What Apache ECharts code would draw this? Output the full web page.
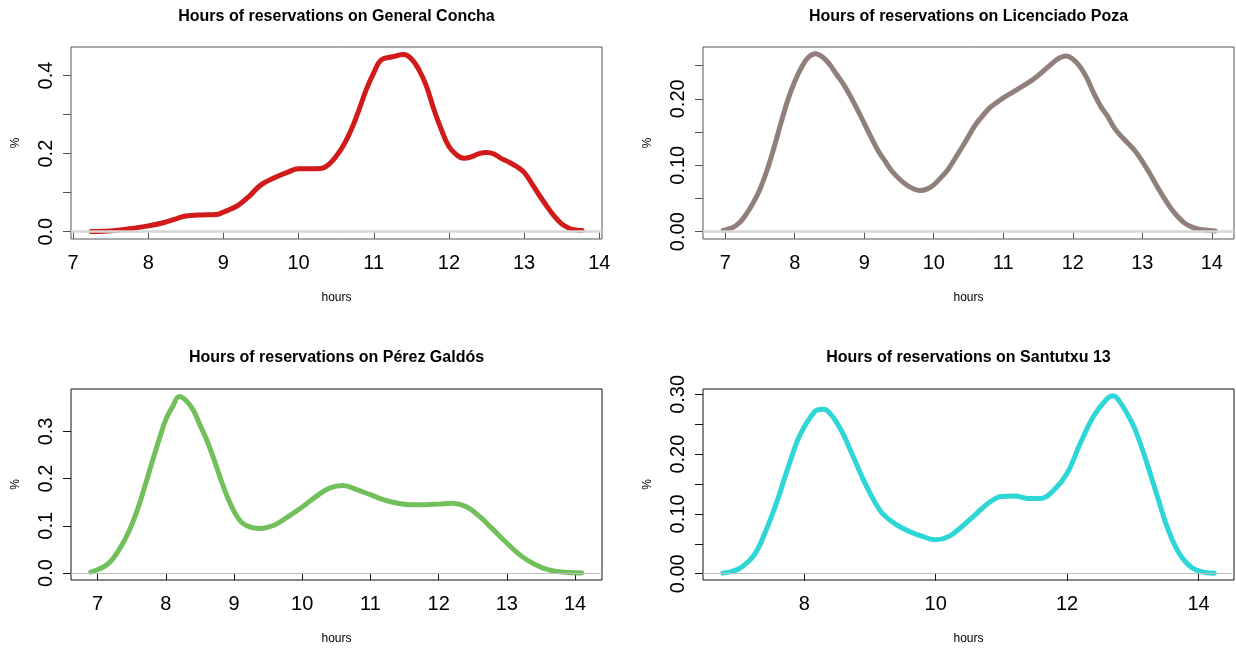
<!DOCTYPE html>
<html>
<head>
  <meta charset="utf-8">
  <title>Hours of reservations</title>
  <script src="https://cdn.jsdelivr.net/npm/echarts@6/dist/echarts.min.js"></script>
  <style>
    html, body { margin: 0; padding: 0; background: #fff; }
    #chart { width: 1236px; height: 651px; }
  </style>
</head>
<body>
<div id="chart"></div>
<script>
  // 数据区：每个面板一组 x（小时）和 y（%）
  var titles = [
    'Hours of reservations on General Concha',
    'Hours of reservations on Licenciado Poza',
    'Hours of reservations on Pérez Galdós',
    'Hours of reservations on Santutxu 13'
  ];
  var colors = ['#d11a1a', '#917f7c', '#72c05b', '#2fd6d6'];

  var hoursConcha = [7.24, 7.4, 7.6, 7.8, 8.0, 8.2, 8.4, 8.5, 8.7, 8.9, 9.0, 9.1, 9.2, 9.35, 9.5, 9.7, 9.85,
    10.0, 10.15, 10.3, 10.4, 10.5, 10.6, 10.7, 10.8, 10.9, 11.0, 11.1, 11.25, 11.4, 11.5, 11.6, 11.7, 11.8, 11.9,
    12.0, 12.1, 12.2, 12.3, 12.4, 12.5, 12.6, 12.7, 12.8, 12.9, 13.0, 13.1, 13.2, 13.3, 13.4, 13.5, 13.6, 13.7, 13.77];
  var pctConcha = [0.0005, 0.001, 0.004, 0.009, 0.015, 0.023, 0.035, 0.040, 0.043, 0.044, 0.050, 0.058, 0.068, 0.092,
    0.120, 0.140, 0.152, 0.161, 0.161, 0.162, 0.172, 0.193, 0.222, 0.261, 0.310, 0.364, 0.407, 0.440, 0.448, 0.454,
    0.443, 0.415, 0.373, 0.313, 0.261, 0.218, 0.197, 0.188, 0.192, 0.200, 0.203, 0.199, 0.187, 0.178, 0.167, 0.152,
    0.124, 0.094, 0.066, 0.040, 0.020, 0.009, 0.004, 0.003];

  var hoursPoza = [6.97, 7.1, 7.2, 7.3, 7.4, 7.5, 7.6, 7.7, 7.8, 7.9, 8.0, 8.1, 8.2, 8.3, 8.4, 8.5, 8.6, 8.7, 8.8, 8.9,
    9.0, 9.1, 9.2, 9.3, 9.4, 9.5, 9.6, 9.7, 9.8, 9.9, 10.0, 10.1, 10.2, 10.3, 10.4, 10.5, 10.6, 10.7, 10.8, 10.9, 11.0,
    11.2, 11.4, 11.5, 11.6, 11.7, 11.8, 11.9, 12.0, 12.1, 12.2, 12.3, 12.4, 12.5, 12.6, 12.7, 12.8, 12.9, 13.0,
    13.1, 13.2, 13.3, 13.4, 13.5, 13.6, 13.7, 13.8, 13.9, 14.05];
  var pctPoza = [0.002, 0.006, 0.013, 0.026, 0.043, 0.064, 0.092, 0.126, 0.163, 0.198, 0.226, 0.248, 0.263, 0.268,
    0.263, 0.252, 0.237, 0.222, 0.204, 0.184, 0.163, 0.142, 0.122, 0.106, 0.091, 0.080, 0.071, 0.065, 0.062, 0.064,
    0.0705, 0.081, 0.093, 0.109, 0.126, 0.1435, 0.161, 0.174, 0.186, 0.194, 0.2015, 0.214, 0.227, 0.235, 0.244, 0.253,
    0.261, 0.2645, 0.260, 0.249, 0.232, 0.209, 0.189, 0.174, 0.156, 0.1435, 0.1325, 0.121, 0.106, 0.089, 0.0705,
    0.053, 0.037, 0.024, 0.0136, 0.0076, 0.004, 0.0025, 0.001];

  var hoursGaldos = [6.9, 7.0, 7.1, 7.2, 7.3, 7.4, 7.5, 7.6, 7.7, 7.8, 7.9, 8.0, 8.1, 8.2, 8.3, 8.4, 8.5, 8.6, 8.7,
    8.8, 8.9, 9.0, 9.1, 9.2, 9.3, 9.4, 9.5, 9.6, 9.8, 10.0, 10.2, 10.4, 10.6, 10.8, 11.0, 11.2, 11.4, 11.6, 11.8,
    12.0, 12.2, 12.4, 12.6, 12.8, 13.0, 13.2, 13.4, 13.6, 13.8, 14.1];
  var pctGaldos = [0.002, 0.007, 0.014, 0.026, 0.046, 0.0706, 0.102, 0.141, 0.187, 0.236, 0.282, 0.325, 0.353, 0.374,
    0.365, 0.346, 0.314, 0.282, 0.2435, 0.201, 0.162, 0.1306, 0.109, 0.0995, 0.0953, 0.0946, 0.0974, 0.102, 0.120,
    0.1398, 0.162, 0.180, 0.1856, 0.1765, 0.166, 0.155, 0.148, 0.1447, 0.1447, 0.146, 0.148, 0.141, 0.120, 0.092,
    0.0635, 0.0374, 0.019, 0.007, 0.002, 0.0];

  var hoursSantutxu = [6.76, 6.9, 7.0, 7.1, 7.2, 7.3, 7.4, 7.5, 7.6, 7.7, 7.8, 7.9, 8.0, 8.1, 8.2, 8.3, 8.4, 8.5, 8.6,
    8.7, 8.8, 8.9, 9.0, 9.1, 9.2, 9.4, 9.6, 9.8, 10.0, 10.2, 10.4, 10.6, 10.8, 11.0, 11.2, 11.4, 11.6, 11.8, 12.0,
    12.2, 12.4, 12.6, 12.7, 12.8, 13.0, 13.1, 13.2, 13.3, 13.4, 13.5, 13.6, 13.7, 13.8, 13.9, 14.0, 14.1, 14.24];
  var pctSantutxu = [0.001, 0.004, 0.008, 0.016, 0.026, 0.043, 0.068, 0.0957, 0.126, 0.160, 0.193, 0.224, 0.246,
    0.263, 0.274, 0.275, 0.267, 0.2516, 0.232, 0.207, 0.182, 0.157, 0.1347, 0.115, 0.0996, 0.082, 0.0707, 0.0623,
    0.0568, 0.0623, 0.079, 0.0985, 0.118, 0.129, 0.130, 0.126, 0.126, 0.140, 0.168, 0.218, 0.263, 0.292, 0.2978,
    0.288, 0.250, 0.222, 0.190, 0.155, 0.120, 0.085, 0.057, 0.035, 0.020, 0.010, 0.005, 0.002, 0.001];

  var xs = [hoursConcha, hoursPoza, hoursGaldos, hoursSantutxu];
  var ys = [pctConcha, pctPoza, pctGaldos, pctSantutxu];

  // 坐标轴刻度
  var xTicks = [[7, 8, 9, 10, 11, 12, 13, 14], [7, 8, 9, 10, 11, 12, 13, 14],
    [7, 8, 9, 10, 11, 12, 13, 14], [8, 10, 12, 14]];
  var yTicks = [[0, 0.1, 0.2, 0.3, 0.4], [0, 0.05, 0.1, 0.15, 0.2, 0.25],
    [0, 0.1, 0.2, 0.3], [0, 0.05, 0.1, 0.15, 0.2, 0.25, 0.3]];
  var yLabels = [[0, 0.2, 0.4], [0, 0.1, 0.2], [0, 0.1, 0.2, 0.3], [0, 0.1, 0.2, 0.3]];
  var yDigits = [1, 2, 1, 2];

  // R 默认 4% 扩展后的范围
  var xRange = [[6.973, 14.036], [6.68, 14.32], [6.61, 14.395], [6.458, 14.54]];
  var yRange = [[-0.0187, 0.473], [-0.011, 0.278], [-0.0148, 0.390], [-0.0105, 0.309]];

  var boxes = [
    { left: 71, top: 47, width: 531, height: 192 },
    { left: 703, top: 47, width: 531, height: 192 },
    { left: 71, top: 389, width: 531, height: 191 },
    { left: 703, top: 389, width: 531, height: 191 }
  ];
  var frameColor = ['#555', '#555', '#111', '#111'];
  var zeroColor = ['#d6d6d6', '#d6d6d6', '#bdbdbd', '#bdbdbd'];
  var zeroWidth = [2.5, 2.5, 1, 1];

  var font = 'Liberation Sans';
  var grid = [], xAxis = [], yAxis = [], series = [], graphic = [];

  for (var i = 0; i < 4; i++) {
    var b = boxes[i];
    grid.push({
      left: b.left, top: b.top, width: b.width, height: b.height,
      show: true, borderColor: frameColor[i], borderWidth: 1, backgroundColor: 'transparent'
    });
    xAxis.push({
      type: 'value', gridIndex: i, min: xRange[i][0], max: xRange[i][1],
      name: 'hours', nameLocation: 'middle', nameGap: 53,
      nameTextStyle: { fontFamily: font, fontSize: 12, color: '#000' },
      axisLine: { show: false },
      splitLine: { show: false },
      axisTick: { show: true, inside: false, length: 7, customValues: xTicks[i],
        lineStyle: { color: frameColor[i], width: 1 } },
      axisLabel: { customValues: xTicks[i], margin: 14, fontFamily: font, fontSize: 20, color: '#000',
        formatter: function (v) { return String(v); } }
    });
    (function (d) {
      yAxis.push({
        type: 'value', gridIndex: i, min: yRange[i][0], max: yRange[i][1],
        name: '%', nameLocation: 'middle', nameGap: 49, nameRotate: 90,
        nameTextStyle: { fontFamily: font, fontSize: 12, color: '#000' },
        axisLine: { show: false },
        splitLine: { show: false },
        axisTick: { show: true, inside: false, length: 8, customValues: yTicks[i],
          lineStyle: { color: frameColor[i], width: 1 } },
        axisLabel: { customValues: yLabels[i], rotate: 90, margin: 15, fontFamily: font, fontSize: 20,
          color: '#000', formatter: function (v) { return v.toFixed(d); } }
      });
    })(yDigits[i]);

    // 零线（abline h=0）
    series.push({
      type: 'line', xAxisIndex: i, yAxisIndex: i, data: [], z: 1, silent: true,
      markLine: {
        silent: true, symbol: ['none', 'none'], label: { show: false },
        lineStyle: { color: zeroColor[i], width: zeroWidth[i], type: 'solid' },
        data: [{ yAxis: 0 }]
      }
    });
    var pts = xs[i].map(function (x, k) { return [x, ys[i][k]]; });
    series.push({
      name: titles[i], type: 'line', xAxisIndex: i, yAxisIndex: i, z: 3,
      data: pts, smooth: 0.4, showSymbol: false, clip: false,
      lineStyle: { color: colors[i], width: 5, cap: 'round', join: 'round' }
    });

    graphic.push({
      type: 'text', x: b.left + b.width / 2, y: i < 2 ? 17 : 358,
      style: { text: titles[i], align: 'center', verticalAlign: 'middle',
        fontFamily: font, fontWeight: 'bold', fontSize: 16, fill: '#000' }
    });
  }

  var myChart = echarts.init(document.getElementById('chart'));
  myChart.setOption({
    animation: false,
    backgroundColor: '#fff',
    grid: grid,
    xAxis: xAxis,
    yAxis: yAxis,
    series: series,
    graphic: graphic
  });
</script>
</body>
</html>
